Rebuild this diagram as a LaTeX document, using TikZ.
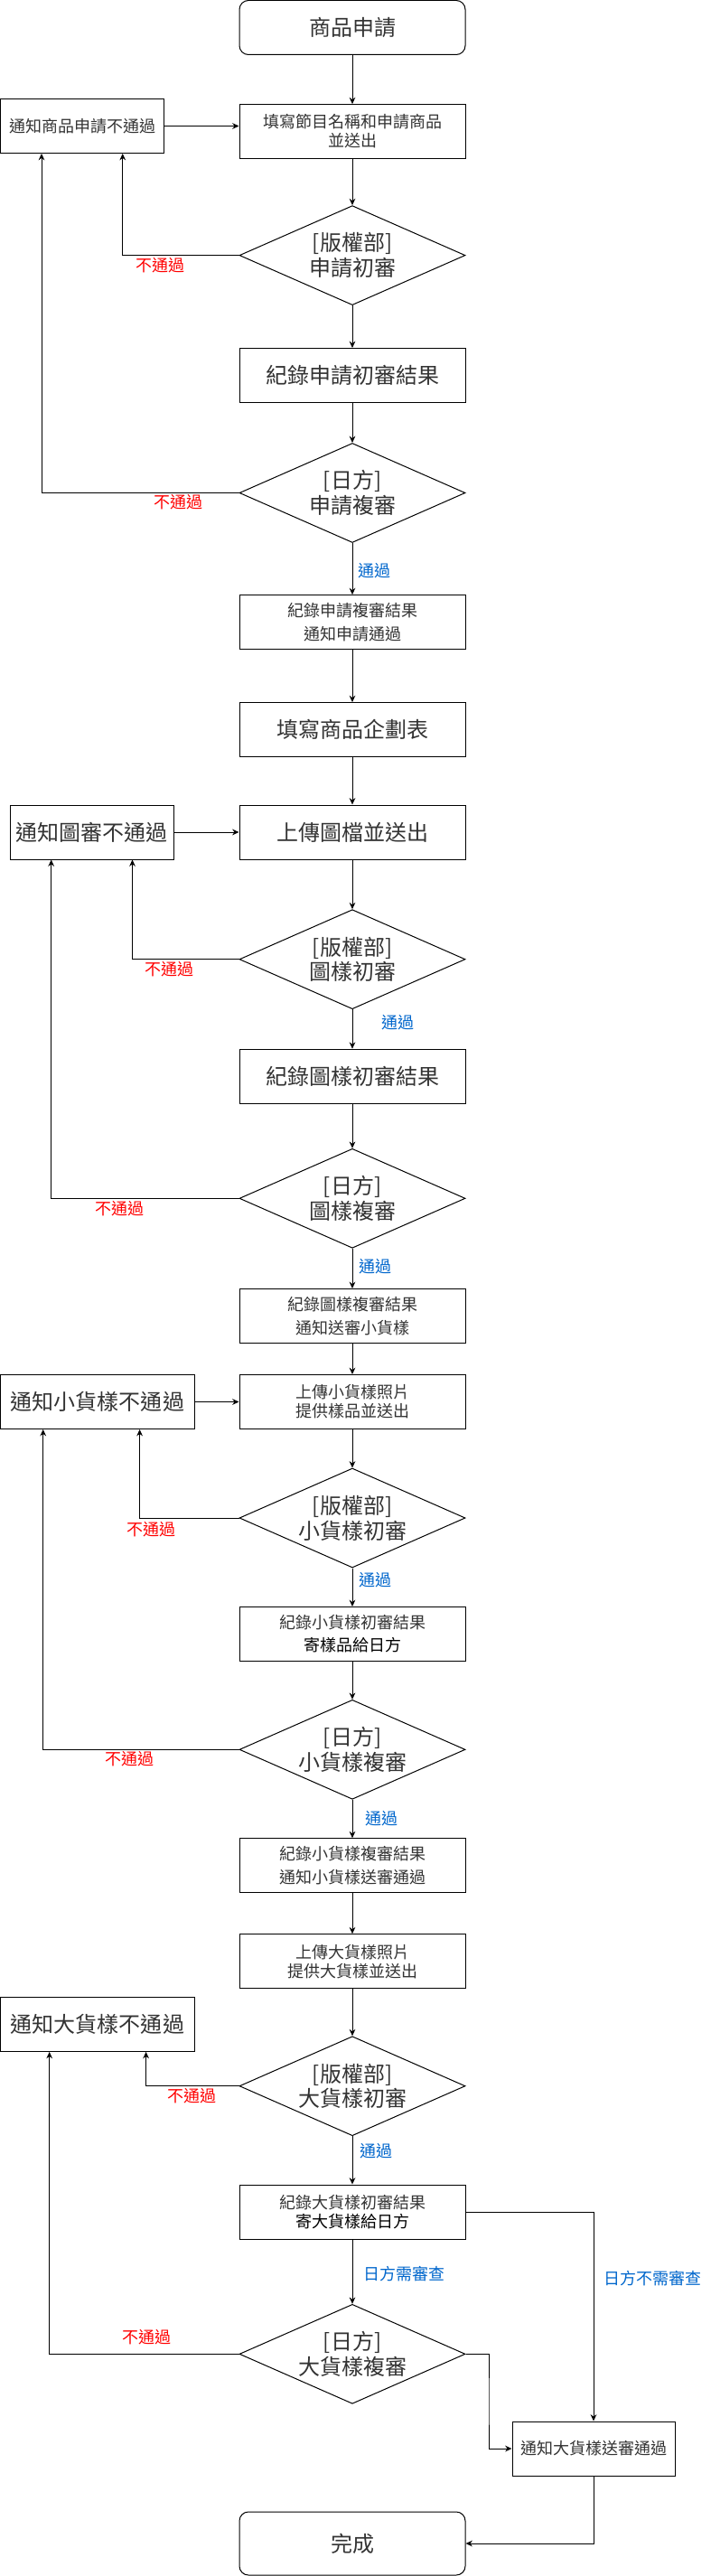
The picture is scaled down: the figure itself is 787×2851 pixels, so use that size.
\documentclass[tikz,border=0pt]{standalone}
\usepackage{fontspec}
\setmainfont{Noto Sans CJK TC}
\usepackage{tikz}
\usetikzlibrary{shapes.geometric,arrows.meta,positioning,calc}
\definecolor{failred}{RGB}{255,0,0}
\definecolor{passblue}{RGB}{0,102,204}
\definecolor{txtgray}{RGB}{51,51,51}

\begin{document}
\begin{tikzpicture}[
    x=0.75pt, y=-0.75pt,
    every node/.style={font=\fontsize{13.5}{15.75}\selectfont, text=txtgray, align=center},
    big/.style={font=\fontsize{18}{20.8}\selectfont},
    block/.style={rectangle, draw=black, line width=0.75pt, minimum width=187.5pt, minimum height=45pt, inner sep=0pt},
    term/.style={block, rounded corners=7.5pt, big},
    decision/.style={diamond, draw=black, line width=0.75pt, minimum width=187.5pt, minimum height=82.5pt, aspect=2.27, inner sep=0pt, big},
    arrow/.style={line width=0.75pt, -{Stealth[length=5.5pt, width=5pt]}},
    fail/.style={text=failred},
    pass/.style={text=passblue}
]
\useasboundingbox (0,0) rectangle (787,2851);

% main column
\node[term] (start) at (390,30.5) {商品申請};
\node[block] (fill) at (390,145.6) {填寫節目名稱和申請商品\\並送出};
\node[block, minimum width=135.75pt] (nfail1) at (91,139.5) {通知商品申請不通過};
\node[decision] (d1) at (390,282.6) {[版權部]\\申請初審};
\node[block, big] (rec1) at (390,415.5) {紀錄申請初審結果};
\node[decision] (d2) at (390,545.5) {[日方]\\申請複審};
\node[block] (rec2) at (390,688.6) {紀錄申請複審結果\\[4pt]通知申請通過};
\node[block, big] (plan) at (390,807.6) {填寫商品企劃表};
\node[block, big] (upload) at (390,921) {上傳圖檔並送出};
\node[block, big, minimum width=135.75pt] (nfail2) at (101.5,921) {通知圖審不通過};
\node[decision] (d3) at (390,1061.7) {[版權部]\\圖樣初審};
\node[block, big] (rec3) at (390,1191.2) {紀錄圖樣初審結果};
\node[decision] (d4) at (390,1326.3) {[日方]\\圖樣複審};
\node[block] (rec4) at (390,1456.5) {紀錄圖樣複審結果\\[4pt]通知送審小貨樣};
\node[block] (upsmall) at (390,1551.5) {上傳小貨樣照片\\提供樣品並送出};
\node[block, big, minimum width=161.25pt] (nfail3) at (108,1551.5) {通知小貨樣不通過};
\node[decision] (d5) at (390,1680) {[版權部]\\小貨樣初審};
\node[block] (rec5) at (390,1808.5) {紀錄小貨樣初審結果\\[3pt]\textcolor{black}{寄樣品給日方}};
\node[decision] (d6) at (390,1936.3) {[日方]\\小貨樣複審};
\node[block] (rec6) at (390,2064.7) {紀錄小貨樣複審結果\\[4pt]通知小貨樣送審通過};
\node[block] (upbig) at (390,2170.7) {上傳大貨樣照片\\提供大貨樣並送出};
\node[block, big, minimum width=161.25pt] (nfail4) at (108,2240.4) {通知大貨樣不通過};
\node[decision] (d7) at (390,2308.7) {[版權部]\\大貨樣初審};
\node[block] (rec7) at (390,2448) {紀錄大貨樣初審結果\\\textcolor{black}{寄大貨樣給日方}};
\node[decision] (d8) at (390,2605.3) {[日方]\\大貨樣複審};
\node[block, minimum width=135pt] (okbig) at (657,2710) {通知大貨樣送審通過};
\node[term, minimum height=52.5pt] (done) at (390,2815) {完成};

% labels
\node[fail] (f1) at (177,293.5) {不通過};
\node[fail] (f2) at (197,556) {不通過};
\node[fail] (f3) at (187.5,1073) {不通過};
\node[fail] (f4) at (132.5,1337.5) {不通過};
\node[fail] (f5) at (167.5,1692.5) {不通過};
\node[fail] (f6) at (143,1947) {不通過};
\node[fail] (f7) at (212.5,2320) {不通過};
\node[fail] (f8) at (162,2587) {不通過};
\node[pass] (p1) at (414,631.5) {通過};
\node[pass] (p2) at (440.5,1132) {通過};
\node[pass] (p3) at (415,1402) {通過};
\node[pass] (p4) at (415,1749) {通過};
\node[pass] (p5) at (422,2013) {通過};
\node[pass] (p6) at (416.5,2381) {通過};
\node[pass] (need) at (447.5,2517) {日方需審查};
\node[pass] (noneed) at (722.5,2521.5) {日方不需審查};

% connectors
\draw[arrow] (start) -- (fill);
\draw[arrow] (nfail1.east) -- (nfail1.east -| fill.west);
\draw[arrow] (fill) -- (d1);
\draw[arrow] (d1.west) -| ($(nfail1.south)+(44.75,0)$);
\draw[arrow] (d1) -- (rec1);
\draw[arrow] (rec1) -- (d2);
\draw[arrow] (d2.west) -| ($(nfail1.south)+(-45,0)$);
\draw[arrow] (d2) -- (rec2);
\draw[arrow] (rec2) -- (plan);
\draw[arrow] (plan) -- (upload);
\draw[arrow] (nfail2) -- (upload);
\draw[arrow] (upload) -- (d3);
\draw[arrow] (d3.west) -| ($(nfail2.south)+(45,0)$);
\draw[arrow] (d3) -- (rec3);
\draw[arrow] (rec3) -- (d4);
\draw[arrow] (d4.west) -| ($(nfail2.south)+(-44.8,0)$);
\draw[arrow] (d4) -- (rec4);
\draw[arrow] (rec4) -- (upsmall);
\draw[arrow] (nfail3) -- (upsmall);
\draw[arrow] (upsmall) -- (d5);
\draw[arrow] (d5.west) -| ($(nfail3.south)+(46.6,0)$);
\draw[arrow] (d5) -- (rec5);
\draw[arrow] (rec5) -- (d6);
\draw[arrow] (d6.west) -| ($(nfail3.south)+(-60.3,0)$);
\draw[arrow] (d6) -- (rec6);
\draw[arrow] (rec6) -- (upbig);
\draw[arrow] (upbig) -- (d7);
\draw[arrow] (d7.west) -| ($(nfail4.south)+(53.6,0)$);
\draw[arrow] (d7) -- (rec7);
\draw[arrow] (rec7) -- (d8);
\draw[arrow] (d8.west) -| ($(nfail4.south)+(-53.3,0)$);
\draw[arrow] (rec7.east) -| (okbig.north);
\draw[arrow] (d8.east) -| ($(d8.east)!0.5!(okbig.west)$) |- (okbig.west);
\draw[arrow] (okbig.south) |- (done.east);
\end{tikzpicture}
\end{document}
